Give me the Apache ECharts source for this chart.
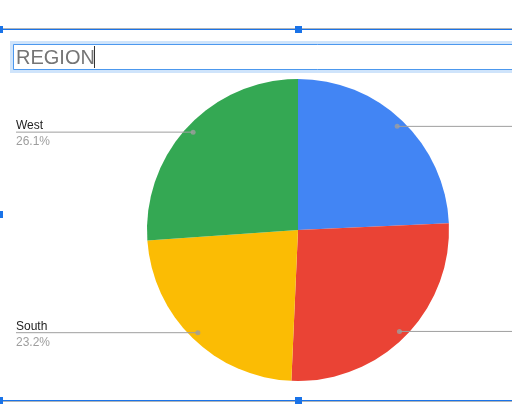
<!DOCTYPE html>
<html>
<head>
<meta charset="utf-8">
<script src="https://cdn.jsdelivr.net/npm/echarts@6/dist/echarts.min.js"></script>
<style>
  html, body { margin: 0; padding: 0; background: #fff; overflow: hidden; }
  /* the chart is wider than the window, so the right-hand labels are cut off as in the sheet */
  #chart { width: 620px; height: 416px; }
</style>
</head>
<body>
<div id="chart"></div>
<script>
// data
const regions = ['Central', 'East', 'South', 'West']
const shares = [24.3, 26.4, 23.2, 26.1]
const colors = ['#4285f4', '#ea4335', '#fbbc04', '#34a853']
const chartTitle = 'REGION'

const chart = echarts.init(document.getElementById('chart'))
const W = 620
const center = [298, 230]
const R = 151
const font = 'Arial, "Liberation Sans", sans-serif'

// mid angle of each slice, in percent of the circle, for the little dots
const total = shares.reduce((a, b) => a + b, 0)
let acc = 0
const dots = shares.map(v => {
  const mid = (acc + v / 2) / total * 100
  acc += v
  return [0.95, mid]
})

const pieData = regions.map((name, i) => ({ name: name, value: shares[i] }))

const option = {
  animation: false,
  title: {
    text: chartTitle,
    left: 16,
    top: 48,
    padding: 0,
    textStyle: { fontFamily: font, fontSize: 20, fontWeight: 'normal', color: '#757575' }
  },
  graphic: [
    // selection frame of the chart
    { type: 'rect', shape: { x: 0, y: 28, width: W, height: 1 }, style: { fill: '#b0b4b8' } },
    { type: 'rect', shape: { x: 0, y: 29, width: W, height: 1 }, style: { fill: '#1a73e8' } },
    { type: 'rect', shape: { x: 0, y: 400, width: W, height: 1 }, style: { fill: '#1a73e8' } },
    { type: 'rect', shape: { x: 0, y: 401, width: W, height: 1 }, style: { fill: '#b0b4b8' } },
    { type: 'rect', shape: { x: 295, y: 26, width: 7, height: 7 }, style: { fill: '#1a73e8' } },
    { type: 'rect', shape: { x: 295, y: 397, width: 7, height: 7 }, style: { fill: '#1a73e8' } },
    { type: 'rect', shape: { x: -4, y: 26, width: 7, height: 7 }, style: { fill: '#1a73e8' } },
    { type: 'rect', shape: { x: -4, y: 211, width: 7, height: 7 }, style: { fill: '#1a73e8' } },
    { type: 'rect', shape: { x: -4, y: 397, width: 7, height: 7 }, style: { fill: '#1a73e8' } },
    // title edit box
    { type: 'rect', shape: { x: 10, y: 41, width: W, height: 32 }, style: { fill: '#cfe4fb' } },
    { type: 'rect', shape: { x: 13.5, y: 44.5, width: W, height: 25 }, style: { fill: '#fff', stroke: '#4c98ee', lineWidth: 1 } },
    { type: 'rect', shape: { x: 94, y: 46, width: 1, height: 22 }, style: { fill: '#333' } }
  ],
  polar: { center: center, radius: R },
  angleAxis: { type: 'value', min: 0, max: 100, startAngle: 90, clockwise: true, show: false },
  radiusAxis: { type: 'value', min: 0, max: 1, show: false },
  series: [
    {
      type: 'pie',
      center: center,
      radius: R,
      startAngle: 90,
      clockwise: true,
      silent: true,
      data: pieData,
      itemStyle: { color: p => colors[p.dataIndex] },
      label: { show: false },
      labelLine: { show: false }
    },
    {
      // invisible copy, only for the labels and leader lines starting inside the slices
      type: 'pie',
      center: center,
      radius: R * 0.95,
      startAngle: 90,
      clockwise: true,
      silent: true,
      z: 3,
      percentPrecision: 1,
      data: pieData,
      itemStyle: { color: 'rgba(0,0,0,0)' },
      label: {
        show: true,
        position: 'outside',
        formatter: '{n|{b}}\n{p|{d}%}',
        rich: {
          n: { fontFamily: font, fontSize: 12, lineHeight: 16, color: '#222' },
          p: { fontFamily: font, fontSize: 12, lineHeight: 16, color: '#9e9e9e' }
        }
      },
      labelLine: { show: true, length: 10, length2: 10, lineStyle: { color: '#9e9e9e', width: 1 } },
      labelLayout: function (params) {
        const p = params.labelLinePoints
        const left = p[1][0] < p[0][0]
        const x = left ? 16 : W - 16
        const y = p[0][1]
        return {
          x: x,
          y: y + 2,
          align: left ? 'left' : 'right',
          verticalAlign: 'middle',
          labelLinePoints: [p[0], [x, y], [x, y]]
        }
      }
    },
    {
      type: 'scatter',
      coordinateSystem: 'polar',
      silent: true,
      z: 4,
      symbolSize: 5,
      itemStyle: { color: '#9e9e9e' },
      data: dots
    }
  ]
}
chart.setOption(option)

window.addEventListener('resize', () => chart.resize())
</script>
</body>
</html>
